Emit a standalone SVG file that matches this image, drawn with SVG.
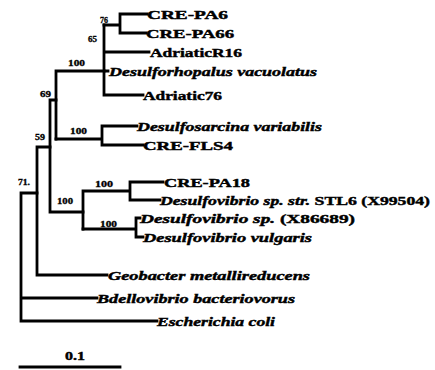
<svg xmlns="http://www.w3.org/2000/svg" width="435" height="370" viewBox="0 0 435 370">
<style>
.br{fill:none;stroke:#000;stroke-width:2.8;stroke-linecap:square;stroke-linejoin:miter}
.lb{font-family:"Liberation Serif","DejaVu Serif",serif;font-weight:bold;font-size:13.5px;fill:#000;stroke:#000;stroke-width:0.45}
.it{font-style:italic}
.bs{font-family:"Liberation Serif","DejaVu Serif",serif;font-weight:bold;font-size:8px;fill:#000;stroke:#000;stroke-width:0.3}
</style>
<rect width="435" height="370" fill="#fff"/>
<g id="connectors">
<path class="br" d="M120,14 V33 M120,14 H147 M120,33 H146 M104,25 H120"/>
<path class="br" d="M104,25 V95 M104,52 H149 M104,71 H108 M104,95 H143"/>
<path class="br" d="M56,71 H104 M56,71 V139"/>
<path class="br" d="M56,139 H102 M102,126 V145 M102,126 H137 M102,145 H143"/>
<path class="br" d="M50,100 H56 M50,100 V212 M50,212 H83"/>
<path class="br" d="M83,191 V229 M83,191 H130 M130,182 V200 M130,182 H163 M130,200 H160"/>
<path class="br" d="M83,229 H136 M136,218 V237 M136,218 H140 M136,237 H143"/>
<path class="br" d="M37,147 H50 M37,147 V275 M37,275 H107"/>
<path class="br" d="M21,193 H37 M21,193 V321 M21,298 H97 M21,321 H157"/>
<path class="br" d="M20,367 H120"/>
</g>
<g id="n-crepa6"><text class="lb" x="147" y="19" textLength="81" lengthAdjust="spacingAndGlyphs">CRE-PA6</text></g>
<g id="n-crepa66"><text class="lb" x="146" y="38" textLength="88" lengthAdjust="spacingAndGlyphs">CRE-PA66</text></g>
<g id="n-adriaticr16"><text class="lb" x="150" y="57" textLength="92" lengthAdjust="spacingAndGlyphs">AdriaticR16</text></g>
<g id="n-desulforhopalus"><text class="lb it" x="109" y="76" textLength="208" lengthAdjust="spacingAndGlyphs">Desulforhopalus vacuolatus</text></g>
<g id="n-adriatic76"><text class="lb" x="143" y="100" textLength="79" lengthAdjust="spacingAndGlyphs">Adriatic76</text></g>
<g id="n-desulfosarcina"><text class="lb it" x="137" y="131" textLength="185" lengthAdjust="spacingAndGlyphs">Desulfosarcina variabilis</text></g>
<g id="n-crefls4"><text class="lb" x="143" y="150" textLength="90" lengthAdjust="spacingAndGlyphs">CRE-FLS4</text></g>
<g id="n-crepa18"><text class="lb" x="164" y="187" textLength="86" lengthAdjust="spacingAndGlyphs">CRE-PA18</text></g>
<g id="n-stl6"><text class="lb" x="160" y="205" textLength="270" lengthAdjust="spacingAndGlyphs"><tspan class="it">Desulfovibrio sp. str.</tspan> STL6 (X99504)</text></g>
<g id="n-x86689"><text class="lb" x="140" y="223" textLength="215" lengthAdjust="spacingAndGlyphs"><tspan class="it">Desulfovibrio sp.</tspan> (X86689)</text></g>
<g id="n-vulgaris"><text class="lb it" x="143" y="242" textLength="169" lengthAdjust="spacingAndGlyphs">Desulfovibrio vulgaris</text></g>
<g id="n-geobacter"><text class="lb it" x="108" y="280" textLength="202" lengthAdjust="spacingAndGlyphs">Geobacter metallireducens</text></g>
<g id="n-bdellovibrio"><text class="lb it" x="97" y="303" textLength="198" lengthAdjust="spacingAndGlyphs">Bdellovibrio bacteriovorus</text></g>
<g id="n-ecoli"><text class="lb it" x="157" y="326" textLength="118" lengthAdjust="spacingAndGlyphs">Escherichia coli</text></g>
<g id="bootstrap">
<text class="bs" x="100" y="23" textLength="8" lengthAdjust="spacingAndGlyphs">76</text>
<text class="bs" x="88" y="42" textLength="9" lengthAdjust="spacingAndGlyphs">65</text>
<text class="bs" x="68" y="66" textLength="17" lengthAdjust="spacingAndGlyphs">100</text>
<text class="bs" x="40" y="97" textLength="11" lengthAdjust="spacingAndGlyphs">69</text>
<text class="bs" x="70" y="134" textLength="17" lengthAdjust="spacingAndGlyphs">100</text>
<text class="bs" x="35" y="140" textLength="10" lengthAdjust="spacingAndGlyphs">59</text>
<text class="bs" x="95" y="187" textLength="18" lengthAdjust="spacingAndGlyphs">100</text>
<text class="bs" x="57" y="204" textLength="16" lengthAdjust="spacingAndGlyphs">100</text>
<text class="bs" x="100" y="227" textLength="17" lengthAdjust="spacingAndGlyphs">100</text>
<text class="bs" x="18" y="185" textLength="12" lengthAdjust="spacingAndGlyphs">71.</text>
</g>
<g id="scale"><text class="lb" x="65" y="360" font-size="12" textLength="20" lengthAdjust="spacingAndGlyphs">0.1</text></g>
</svg>
